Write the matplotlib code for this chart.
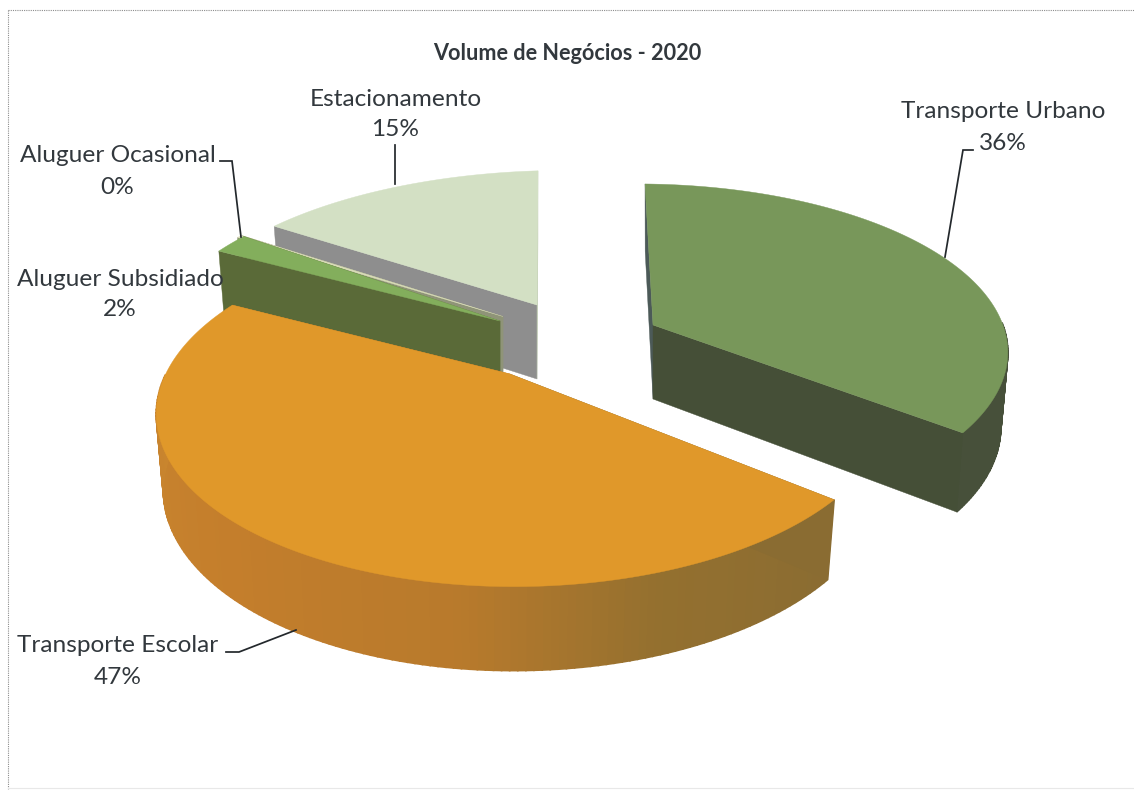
import numpy as np
import matplotlib
matplotlib.use("Agg")
import matplotlib.pyplot as plt
from matplotlib.patches import Polygon

# Turnover split for 2020
categories = ["Transporte Urbano", "Transporte Escolar", "Aluguer Subsidiado",
              "Aluguer Ocasional", "Estacionamento"]
values = [36, 47, 2, 0.3, 15]
title = "Volume de Negócios - 2020"

W, H = 1134, 790
INK = "#32383d"
plt.rcParams["font.family"] = ["Lato", "DejaVu Sans"]

# Projection of each exploded slice: apex, plane axes and perspective terms
slice_style = {
    "Transporte Urbano": dict(apex=(653, 325), ax=(366.7, -3.7), ay=(-9.3, -164.3), p=(0.052, 0.165),
                              top="#78975a", end_wall="#454f37", start_wall="#4c5a58",
                              outer=[(0, "#47503a"), (1, "#47503a")]),
    "Transporte Escolar": dict(apex=(510, 374), ax=(359, -2), ay=(8, -170), p=(-0.04, 0.2),
                               top="#e0982a", end_wall="#c07c2a", start_wall="#8a6c32",
                               outer=[(0, "#8a6c32"), (0.18, "#94702f"), (0.33, "#b87a2c"),
                                      (0.55, "#c47e2c"), (1, "#cc8a30")]),
    "Aluguer Subsidiado": dict(apex=(500, 321), ax=(362, 0), ay=(0, -170), p=(-0.05, 0.2),
                               top="#83ae5c", end_wall="#5a6a38", start_wall="#5a6a38",
                               outer=[(0, "#5a6a38"), (1, "#5a6a38")]),
    "Aluguer Ocasional": dict(apex=(503, 316.5), ax=(375, 0), ay=(0, -159), p=(-0.05, 0.2),
                              top="#d9dcb8", end_wall="#8f9478", start_wall="#8f9478",
                              outer=[(0, "#8f9478"), (1, "#8f9478")]),
    "Estacionamento": dict(apex=(537, 305), ax=(378, -4.6), ay=(1.2, -161), p=(-0.05, 0.2),
                           top="#d3e0c4", end_wall="#bcc8ae", start_wall="#8e8e8e",
                           outer=[(0, "#8e8e8e"), (1, "#8e8e8e")]),
}
draw_order = ["Estacionamento", "Aluguer Ocasional", "Aluguer Subsidiado",
              "Transporte Urbano", "Transporte Escolar"]

DEPTH = 74

# Label centres and leader paths
label_style = {
    "Transporte Urbano": dict(xy=(1003, 112), leader=[(973, 150), (963, 150), (945, 257)]),
    "Transporte Escolar": dict(xy=(118, 646), leader=[(226, 652), (239, 652), (296, 630)]),
    "Aluguer Subsidiado": dict(xy=(120, 279), leader=None),
    "Aluguer Ocasional": dict(xy=(117.5, 156), leader=[(220, 161), (232, 161), (241, 237)]),
    "Estacionamento": dict(xy=(395.5, 99), leader=[(395, 145), (395, 184)]),
}


def project(style, theta):
    """Map clockwise pie angles (degrees from the top) to canvas coordinates."""
    t = np.radians(theta)
    X, Y = np.sin(t), np.cos(t)
    den = 1 + style["p"][0] * X + style["p"][1] * Y
    ax_, ay_ = np.array(style["ax"]), np.array(style["ay"])
    return np.column_stack([style["apex"][0] + (X * ax_[0] + Y * ay_[0]) / den,
                            style["apex"][1] + (X * ax_[1] + Y * ay_[1]) / den])


def lower(style, pts):
    """Shift points of the top face down to the lower rim of the slice."""
    pts = np.atleast_2d(pts)
    ox, oy = style["apex"]
    return np.column_stack([ox + (pts[:, 0] - ox) * 0.98,
                            oy + DEPTH + (pts[:, 1] - oy) * 1.047])


def blend(stops, f):
    pos = [s[0] for s in stops]
    rgb = np.array([matplotlib.colors.to_rgb(s[1]) for s in stops])
    return tuple(np.interp(f, pos, rgb[:, i]) for i in range(3))


fig = plt.figure(figsize=(W / 100, H / 100), dpi=100, facecolor="white")
ax = fig.add_axes([0, 0, 1, 1])
ax.set_xlim(0, W)
ax.set_ylim(H, 0)
ax.axis("off")

# Dotted chart frame
frame_kw = dict(color="#8c8c8c", lw=0.8, ls=(0, (1, 1)))
ax.plot([8, 8], [10, 789], **frame_kw)
ax.plot([8, 1134], [10, 10], **frame_kw)
ax.plot([8, 1134], [788, 788], color="#e8e8e8", lw=0.8)

# Slice angles follow from the values
total = sum(values)
edges = np.concatenate([[0], np.cumsum(values)]) / total * 360
spans = {c: (edges[i], edges[i + 1]) for i, c in enumerate(categories)}

for order, cat in enumerate(draw_order):
    s = slice_style[cat]
    a0, a1 = spans[cat]
    thetas = np.linspace(a0, a1, 161)
    arc = project(s, thetas)
    apex = np.array(s["apex"], float)
    z = 1 + order

    # Outer rim, split into narrow strips to shade it along the arc;
    # the half facing away from the viewer stays hidden
    bottom = lower(s, arc)
    for i in range(len(arc) - 1):
        if np.cos(np.radians(thetas[i])) > 0:
            continue
        col = blend(s["outer"], i / (len(arc) - 2))
        ax.add_patch(Polygon([arc[i], arc[i + 1], bottom[i + 1], bottom[i]],
                             closed=True, fc=col, ec=col, lw=1.2, zorder=z))
    # Radial cut faces
    apex_low = lower(s, apex)[0]
    ax.add_patch(Polygon([apex, arc[0], bottom[0], apex_low], closed=True,
                         fc=s["start_wall"], ec=s["start_wall"], lw=0.3, zorder=z))
    ax.add_patch(Polygon([apex, arc[-1], bottom[-1], apex_low], closed=True,
                         fc=s["end_wall"], ec=s["end_wall"], lw=0.3, zorder=z))
    # Top face
    ax.add_patch(Polygon(np.vstack([apex, arc]), closed=True,
                         fc=s["top"], ec=s["top"], lw=0.3, zorder=z))

ax.text(567.5, 53, title, ha="center", va="center", fontsize=15.6, fontweight="bold",
        color=INK, zorder=10)

for cat, val in zip(categories, values):
    st = label_style[cat]
    x, y = st["xy"]
    ax.text(x, y, cat, ha="center", va="center", fontsize=17.6, color=INK, zorder=10)
    ax.text(x, y + 31, f"{val / total * 100:.0f}%", ha="center", va="center",
            fontsize=17.6, color=INK, zorder=10)
    if st["leader"]:
        lx, ly = zip(*st["leader"])
        ax.plot(lx, ly, color="#23282c", lw=1.25, zorder=9, solid_joinstyle="miter")

fig.savefig("out.png", dpi=100, facecolor="white")
